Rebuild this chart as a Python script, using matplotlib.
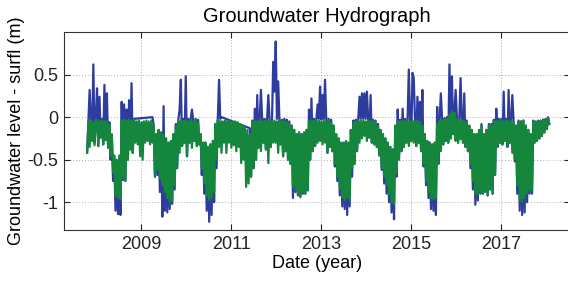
import numpy as np
import pandas as pd
import matplotlib
matplotlib.use("Agg")
import matplotlib.pyplot as plt
import matplotlib.dates as mdates

nan = np.nan

# groundwater level - surface level (m), one reading every 10 days from 2007-10-20
start_date = "2007-10-20"

green_level = [
    -0.42, -0.05, -0.35, -0.04, -0.28, -0.06, -0.33, -0.03,
    -0.04, -0.34, -0.05, -0.24, -0.04, -0.32, -0.05, -0.27,
    -0.05, -0.35, -0.08, -0.46, -0.20, -0.65, -0.45, -0.92,
    -0.50, -0.95, -0.45, -0.96, -0.04, -0.72, -0.03, -0.75,
    -0.04, -0.50, -0.03, -0.38, -0.04, -0.42, -0.03, -0.30,
    -0.05, -0.32, -0.04, -0.46, -0.06, -0.50, -0.05, -0.30,
    -0.04, -0.28, -0.05, -0.32, -0.04, -0.30, -0.10, -0.70,
    -0.20, -0.62, -0.15, -0.72, -0.18, -0.80, -0.20, -0.88,
    -0.25, -0.95, -0.30, -1.00, -0.28, -0.98, -0.20, -0.80,
    -0.10, -0.60, -0.05, -0.42, -0.04, -0.34, -0.04, -0.30,
    -0.04, -0.46, -0.05, -0.30, -0.04, -0.36, -0.05, -0.28,
    -0.04, -0.34, -0.06, -0.32, -0.20, -0.60, -0.30, -0.78,
    -0.30, -0.92, -0.35, -0.97, -0.32, -0.95, -0.28, -0.88,
    -0.08, -0.50, -0.03, -0.35, -0.04, -0.42, -0.05, -0.30,
    -0.04, -0.42, -0.05, -0.30, -0.04, -0.36, -0.06, -0.33,
    -0.05, -0.40, -0.06, -0.35, -0.08, -0.54, -0.10, -0.50,
    -0.12, -0.82, -0.15, -0.78, -0.20, -0.70, -0.06, -0.60,
    -0.04, -0.50, -0.05, -0.36, -0.04, -0.40, -0.05, -0.30,
    -0.04, -0.38, -0.05, -0.54, -0.04, -0.35, -0.05, -0.30,
    -0.04, -0.30, -0.05, -0.42, -0.04, -0.32, -0.05, -0.46,
    -0.05, -0.40, -0.06, -0.50, -0.08, -0.55, -0.10, -0.82,
    -0.15, -0.85, -0.20, -0.90, -0.18, -0.93, -0.20, -0.88,
    -0.18, -0.90, -0.15, -0.86, -0.05, -0.50, -0.04, -0.40,
    -0.04, -0.34, -0.05, -0.30, -0.04, -0.28, -0.05, -0.32,
    -0.04, -0.30, -0.05, -0.42, -0.04, -0.35, -0.06, -0.40,
    -0.10, -0.55, -0.20, -0.70, -0.25, -0.85, -0.30, -0.95,
    -0.30, -0.97, -0.28, -0.95, -0.30, -0.97, -0.15, -0.60,
    -0.06, -0.55, -0.05, -0.40, -0.05, -0.30, -0.04, -0.25,
    -0.04, -0.22, -0.05, -0.28, -0.04, -0.24, -0.05, -0.30,
    -0.05, -0.32, -0.06, -0.35, -0.10, -0.45, -0.15, -0.60,
    -0.20, -0.70, -0.25, -0.80, -0.30, -0.90, -0.35, -1.00,
    -0.38, -1.02, -0.10, -0.66, -0.05, -0.50, -0.05, -0.40,
    -0.04, -0.35, -0.05, -0.30, -0.04, -0.34, -0.05, -0.28,
    -0.04, -0.30, -0.05, -0.34, -0.04, -0.30, -0.06, -0.40,
    -0.10, -0.55, -0.20, -0.75, -0.28, -0.88, -0.30, -0.95,
    -0.32, -0.97, -0.30, -0.95, -0.08, -0.55, -0.04, -0.40,
    -0.04, -0.32, -0.03, -0.28, -0.02, -0.30, 0.03, -0.25,
    0.07, -0.20, 0.05, -0.28, -0.02, -0.30, -0.03, -0.26,
    -0.04, -0.30, -0.05, -0.35, -0.06, -0.40, -0.10, -0.55,
    -0.15, -0.75, -0.20, -0.91, -0.20, -0.90, -0.15, -0.88,
    -0.10, -0.90, -0.20, -0.88, -0.15, -0.92, -0.10, -0.85,
    -0.10, -0.90, -0.05, -0.68, -0.04, -0.35, -0.05, -0.30,
    -0.04, -0.32, -0.05, -0.28, -0.04, -0.35, -0.05, -0.30,
    -0.04, -0.42, -0.06, -0.50, -0.10, -0.80, -0.05, -0.98,
    -0.05, -1.00, -0.04, -0.95, -0.10, -0.90, -0.15, -0.86,
    -0.20, -0.86, -0.05, -0.30, -0.06, -0.28, -0.05, -0.25,
    -0.05, -0.22, -0.04, -0.18, -0.03, -0.14, -0.01, -0.08,
]

# nan = no reading (the line is drawn straight across)
blue_level = [
    -0.40, -0.03, 0.32, -0.02, -0.26, 0.62, -0.30, -0.02,
    0.34, -0.34, 0.24, -0.24, -0.02, -0.32, 0.38, -0.27,
    0.28, -0.36, -0.06, -0.50, -0.22, -0.75, -0.50, -1.10,
    -0.55, -1.14, -0.50, -1.15, 0.18, -0.74, 0.15, -0.75,
    0.09, -0.50, 0.20, -0.38, 0.40, -0.42, -0.02, nan,
    nan, nan, nan, nan, nan, nan, nan, nan,
    nan, nan, nan, nan, nan, 0.00, -0.10, -0.70,
    -0.20, -0.68, -0.15, -0.88, -0.18, -1.17, 0.13, -1.10,
    -0.25, -1.12, -0.30, -1.08, -0.28, -1.02, -0.20, -0.85,
    -0.08, -0.60, -0.03, 0.09, 0.44, -0.34, -0.02, -0.30,
    0.48, -0.46, -0.02, -0.30, -0.02, 0.09, -0.03, -0.28,
    -0.02, -0.34, -0.03, -0.32, -0.20, -0.68, -0.30, -0.90,
    -0.30, -1.10, -0.35, -1.23, -0.32, -1.15, -0.28, -1.00,
    -0.08, -0.60, -0.02, 0.44, -0.02, 0.00, nan, nan,
    nan, nan, nan, nan, nan, nan, nan, nan,
    nan, nan, nan, nan, nan, nan, nan, nan,
    nan, nan, nan, nan, -0.13, -0.70, -0.04, -0.60,
    0.10, -0.50, 0.26, -0.36, -0.02, 0.32, -0.03, -0.30,
    -0.02, -0.38, -0.02, 0.26, -0.02, -0.35, -0.03, 0.65,
    0.30, 0.89, -0.02, 0.42, -0.02, -0.32, -0.03, -0.46,
    -0.02, -0.40, -0.03, -0.50, -0.05, -0.55, -0.10, -0.95,
    -0.15, -0.88, -0.20, -0.92, -0.18, -0.94, -0.20, -0.90,
    -0.18, -0.90, -0.15, -0.86, 0.09, -0.50, 0.22, -0.40,
    -0.02, -0.34, -0.02, 0.15, -0.02, 0.36, -0.03, 0.26,
    -0.02, 0.44, -0.02, -0.42, -0.02, -0.35, -0.03, -0.40,
    -0.10, -0.58, -0.20, -0.75, -0.25, -0.92, -0.30, -1.05,
    -0.30, -1.08, -0.28, -1.15, -0.30, -1.05, -0.15, -0.70,
    -0.04, -0.55, -0.03, -0.40, -0.02, 0.24, -0.02, 0.28,
    -0.02, 0.28, -0.02, 0.30, -0.02, -0.24, 0.26, -0.30,
    -0.03, -0.32, -0.04, -0.35, -0.08, -0.45, -0.15, -0.62,
    -0.20, -0.78, -0.25, -0.90, -0.30, -1.00, -0.35, -1.12,
    -0.38, -1.20, -0.10, -0.70, 0.09, -0.50, -0.03, -0.40,
    0.10, -0.35, -0.02, -0.30, -0.02, 0.56, -0.02, -0.28,
    0.52, 0.46, -0.02, -0.34, 0.24, -0.30, 0.18, -0.40,
    0.32, -0.58, -0.20, -0.80, -0.28, -0.95, -0.30, -1.08,
    -0.32, -1.10, -0.30, -1.15, 0.12, -0.55, -0.02, 0.28,
    -0.02, -0.32, -0.01, -0.28, 0.00, -0.30, 0.62, -0.25,
    0.48, -0.20, 0.07, 0.32, 0.00, -0.30, -0.01, 0.46,
    -0.02, -0.30, 0.28, -0.35, -0.04, -0.40, -0.10, -0.60,
    -0.15, -0.85, -0.20, -1.03, -0.20, -0.98, -0.15, -0.90,
    -0.08, -0.90, -0.20, -0.88, -0.15, -0.92, -0.08, -0.85,
    -0.08, -0.90, -0.03, -0.68, 0.10, -0.35, -0.02, -0.30,
    -0.02, -0.32, 0.30, -0.28, -0.02, -0.35, 0.32, -0.30,
    -0.02, 0.26, -0.04, -0.52, -0.10, -0.90, -0.04, -1.10,
    -0.05, -1.15, -0.04, -1.12, -0.10, -1.00, -0.15, -0.90,
    -0.20, -0.90, -0.04, -0.30, -0.05, -0.28, -0.04, -0.25,
    -0.04, -0.22, -0.03, -0.18, -0.02, -0.14, 0.00, -0.08,
]

year_ticks = [2009, 2011, 2013, 2015, 2017]
level_ticks = [-1, -0.5, 0, 0.5]
level_labels = ["-1", "-0.5", "0", "0.5"]

plt.rcParams['font.family'] = ['Liberation Sans', 'DejaVu Sans']

dates = pd.date_range(start_date, periods=len(green_level), freq="10D")
blue = np.array(blue_level, dtype=float)
green = np.array(green_level, dtype=float)
ok = ~np.isnan(blue)

fig = plt.figure(figsize=(5.68, 2.84), dpi=100)
ax = fig.add_axes([0.1127, 0.19, 0.8908, 0.697])

ax.plot(dates[ok], blue[ok], color='#2e3c9e', lw=1.6, zorder=2)
ax.plot(dates, green, color='#14873c', lw=1.6, zorder=3)

ax.set_xlim(pd.Timestamp("2007-04-15"), pd.Timestamp("2018-07-12"))
ax.set_ylim(-1.327, 1.0)
ax.set_xticks([pd.Timestamp(f"{y}-01-01") for y in year_ticks])
ax.xaxis.set_major_formatter(mdates.DateFormatter("%Y"))
ax.set_yticks(level_ticks)
ax.set_yticklabels(level_labels)

ax.grid(True, linestyle=(0, (1, 2)), color='#b0b0b0', lw=0.7)
ax.set_axisbelow(True)
ax.tick_params(direction='in', length=4, top=True, right=True,
               labelsize=13, colors='#222222', pad=4)
for s in ax.spines.values():
    s.set_color('#333333')
    s.set_linewidth(0.8)

ax.set_title("Groundwater Hydrograph", fontsize=14.5, pad=7)
ax.set_xlabel("Date (year)", fontsize=13, labelpad=2)
ax.set_ylabel("Groundwater level - surfl (m)", fontsize=13, labelpad=2)

fig.savefig("out.png", dpi=100)
